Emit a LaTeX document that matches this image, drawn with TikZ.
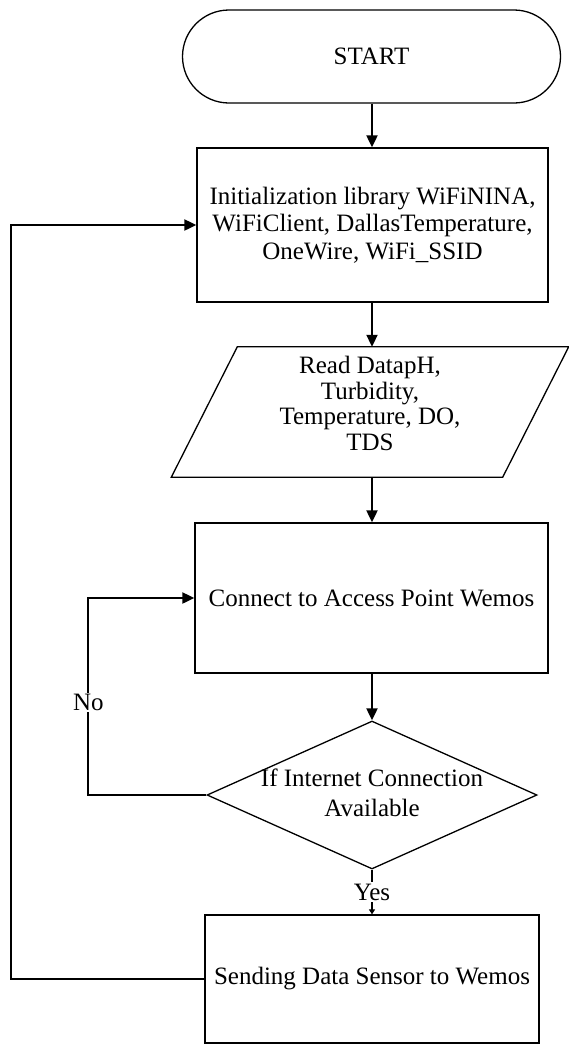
\documentclass[tikz,border=0pt]{standalone}
\usepackage{fontspec}
\setmainfont{Liberation Serif}
\usetikzlibrary{arrows.meta,shapes.geometric}
\newcommand\flowfont{\fontsize{25}{27.5}\selectfont}
\begin{document}
\begin{tikzpicture}[x=1pt,y=-1pt,
  box/.style={draw, line width=1.3pt, inner sep=0pt, align=center, font=\flowfont},
  plain/.style={inner sep=0pt, align=center, font=\flowfont},
  conn/.style={line width=2pt, -{Triangle[length=12pt,width=11pt]}},
  lbl/.style={fill=white, inner sep=1.5pt, font=\flowfont}]
\useasboundingbox (0,0) rectangle (569,1045);
% nodes
\node[box, rounded corners=46.5pt, minimum width=378pt, minimum height=93pt] (start) at (371.5,56.5) {START};
\node[box, minimum width=351pt, minimum height=154pt] (init) at (372.5,225)
  {Initialization library WiFiNINA,\\ WiFiClient, DallasTemperature,\\ OneWire, WiFi\_SSID};
\node[inner sep=0pt, minimum width=331pt, minimum height=130pt] (par) at (370,412) {};
\draw[line width=1.3pt] ([xshift=33pt]par.north west) -- ([xshift=33pt]par.north east)
  -- ([xshift=-33pt]par.south east) -- ([xshift=-33pt]par.south west) -- cycle;
\node[plain, font=\fontsize{25}{25.7}\selectfont] (partext) at (370,403.5)
  {Read DatapH,\\ Turbidity,\\ Temperature, DO,\\ TDS};
\node[box, minimum width=353pt, minimum height=150pt] (connect) at (371.5,598)
  {Connect to Access Point Wemos};
\node[draw, diamond, line width=1.3pt, inner sep=0pt, minimum width=330pt, minimum height=148pt] (dia) at (372,795) {};
\node[plain, font=\fontsize{25}{30}\selectfont] (diatext) at (372,793) {If Internet Connection\\ Available};
\node[box, minimum width=334pt, minimum height=128pt] (send) at (372,979)
  {Sending Data Sensor to Wemos};
% connectors (all vertical runs on x = 372)
\coordinate (axis) at (372,0);
\draw[conn] (axis |- start.south) -- (axis |- init.north);
\draw[conn] (axis |- init.south) -- (axis |- par.north);
\draw[conn] (axis |- par.south) -- (axis |- connect.north);
\draw[conn] (axis |- connect.south) -- (dia.north);
\draw[line width=2pt, -{Triangle[length=5pt,width=6pt]}] (dia.south) -- node[lbl] (yes) {Yes} (dia.south |- send.north);
\draw[conn] (dia.west) -- ++(-118,0) |- node[lbl, pos=0.235] (no) {No} (connect.west);
\draw[conn] (send.west) -- ++(-193,0) |- (init.west);
\end{tikzpicture}
\end{document}
